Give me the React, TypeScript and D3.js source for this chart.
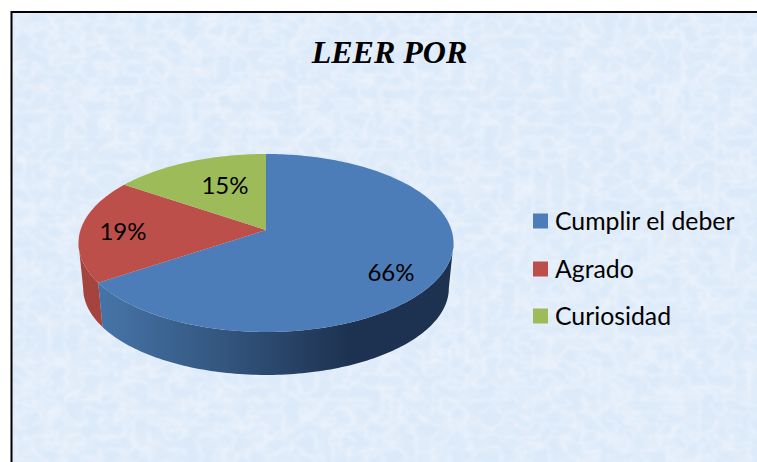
import React from "react";
import * as d3 from "d3";

const categories = ["Cumplir el deber", "Agrado", "Curiosidad"];
const values = [65.6, 18.9, 15.5];
const valueLabels = ["66%", "19%", "15%"];
const colors = ["#4c7db8", "#bd4f4b", "#9dbb59"];
const title = "LEER POR";

const W = 757, H = 462;
const cx = 266, cy = 230;
const a = 185.5, b = 87.1, p = 0.146;
const depth = 45.5, shrink = 0.975;

const proj = (t: number, k = 1, dy = 0): [number, number] => {
  const u = Math.sin(t), v = Math.cos(t), w = 1 + p * v;
  return [cx + (k * a * u) / w, cy + (k * -b * v) / w + dy];
};
const sample = (t0: number, t1: number) => {
  const n = Math.max(2, Math.ceil(Math.abs(t1 - t0) / 0.02));
  return d3.range(n + 1).map((i) => t0 + ((t1 - t0) * i) / n);
};
const line = d3.line<[number, number]>();

const arcs = d3.pie<number>().sort(null)(values);
const rightSil = Math.PI / 2 + Math.asin(p);
const leftSil = (3 * Math.PI) / 2 - Math.asin(p);

const sideBetween = (t0: number, t1: number) => {
  const top = sample(t0, t1).map((t) => proj(t));
  const bot = sample(t1, t0).map((t) => proj(t, shrink, depth));
  return line([...top, ...bot])! + "Z";
};
const topSlice = (t0: number, t1: number) =>
  line([[cx, cy], ...sample(t0, t1).map((t) => proj(t))])! + "Z";

const labelPos: [number, number][] = [[391, 275], [123, 234], [225, 188]];
const legendY = [221, 269, 316];

export default function App() {
  return (
    <svg width={W} height={H} style={{ position: "absolute", left: 0, top: 0, display: "block" }}>
      <defs>
        <filter id="tex" x="0" y="0" width="100%" height="100%">
          <feTurbulence type="fractalNoise" baseFrequency="0.05 0.06" numOctaves={4} seed={7} result="n" />
          <feColorMatrix in="n" type="matrix" values="0 0 0 0 0.79  0 0 0 0 0.86  0 0 0 0 0.94  1.8 0 0 0 -0.68" result="dark" />
          <feTurbulence type="turbulence" baseFrequency="0.06 0.08" numOctaves={3} seed={23} result="m" />
          <feColorMatrix in="m" type="matrix" values="0 0 0 0 0.91  0 0 0 0 0.955  0 0 0 0 1  0 0 0 -1.5 0.55" result="light" />
          <feGaussianBlur in="light" stdDeviation={1} result="lightBlur" />
          <feMerge>
            <feMergeNode in="SourceGraphic" />
            <feMergeNode in="dark" />
            <feMergeNode in="lightBlur" />
          </feMerge>
        </filter>
        <linearGradient id="blueSide" gradientUnits="userSpaceOnUse" x1={100} x2={350} y1={0} y2={0}>
          <stop offset="0" stopColor="#4674a8" />
          <stop offset="0.5" stopColor="#33557e" />
          <stop offset="1" stopColor="#1d3250" />
        </linearGradient>
      </defs>
      <rect width={W} height={H} fill="#fff" />
      <rect x={12} y={12} width={W - 12} height={H - 12} fill="#dbe9f9" filter="url(#tex)" />
      <path d={`M11.5 ${H}V12H${W}`} fill="none" stroke="#000" strokeWidth={2} />

      <path d={sideBetween(rightSil, arcs[0].endAngle)} fill="url(#blueSide)" />
      <path d={sideBetween(arcs[1].startAngle, leftSil)} fill="#a5443f" />
      {arcs.map((d, i) => (
        <path key={i} d={topSlice(d.startAngle, d.endAngle)} fill={colors[i]} />
      ))}
      {valueLabels.map((v, i) => (
        <text key={i} x={labelPos[i][0]} y={labelPos[i][1]} textAnchor="middle" dominantBaseline="middle"
          fontFamily="Lato" fontSize={24} fill="#000">{v}</text>
      ))}

      <text x={389.5} y={56} textAnchor="middle" dominantBaseline="middle" fontFamily="Liberation Serif"
        fontWeight="bold" fontStyle="italic" fontSize={32} fill="#000">{title}</text>

      {categories.map((c, i) => (
        <g key={c}>
          <rect x={533} y={legendY[i] - 7.5} width={15} height={15} fill={colors[i]} />
          <text x={555} y={legendY[i] + 3} dominantBaseline="middle" fontFamily="Lato" fontSize={24.8} fill="#000">{c}</text>
        </g>
      ))}
    </svg>
  );
}
